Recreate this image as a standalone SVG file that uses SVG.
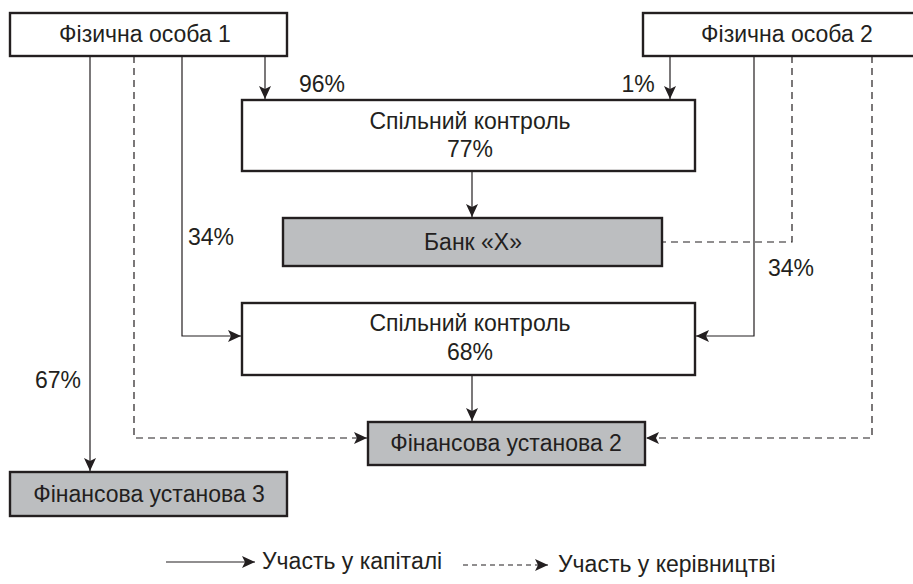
<svg xmlns="http://www.w3.org/2000/svg" width="913" height="584" viewBox="0 0 913 584">
<style>
.box{fill:#fff;stroke:#231f20;stroke-width:2.4}
.grey{fill:#bcbec0}
.t{font-family:"Liberation Sans",Arial,sans-serif;font-size:23px;fill:#231f20;text-anchor:middle}
.l{font-family:"Liberation Sans",Arial,sans-serif;font-size:23px;fill:#231f20}
.c{fill:none;stroke:#231f20;stroke-width:1.2}
.d{stroke-dasharray:7,5}
</style>
<defs>
<marker id="a" markerUnits="userSpaceOnUse" markerWidth="14" markerHeight="14" viewBox="0 0 14 14" refX="13" refY="7" orient="auto">
<path d="M0,1 L13,7 L0,13 L3,7 Z" fill="#231f20"/>
</marker>
</defs>
<rect width="913" height="584" fill="#fff"/>
<g id="connectors">
<path class="c" d="M265,56 V99" marker-end="url(#a)"/>
<path class="c" d="M670,56 V99" marker-end="url(#a)"/>
<path class="c" d="M472,171 V217" marker-end="url(#a)"/>
<path class="c" d="M182,56 V336 H241" marker-end="url(#a)"/>
<path class="c" d="M754,56 V336 H696" marker-end="url(#a)"/>
<path class="c" d="M472,375 V421" marker-end="url(#a)"/>
<path class="c" d="M90,56 V471" marker-end="url(#a)"/>
<path class="c d" d="M134,56 V438 H367" marker-end="url(#a)"/>
<path class="c d" d="M872,56 V438 H646" marker-end="url(#a)"/>
<path class="c d" d="M792,56 V242 H663"/>
</g>
<g id="n1"><rect class="box" x="10" y="13" width="277" height="43"/><text class="t" x="145" y="42">Фізична особа 1</text></g>
<g id="n2"><rect class="box" x="643" y="13" width="280" height="43"/><text class="t" x="787" y="42">Фізична особа 2</text></g>
<g id="n3"><rect class="box" x="242" y="100" width="453" height="71"/><text class="t" x="470" y="129">Спільний контроль</text><text class="t" x="470" y="157">77%</text></g>
<g id="n4"><rect class="box grey" x="283" y="218" width="379" height="48"/><text class="t" x="473" y="250">Банк «X»</text></g>
<g id="n5"><rect class="box" x="242" y="303" width="453" height="72"/><text class="t" x="470" y="331">Спільний контроль</text><text class="t" x="470" y="360">68%</text></g>
<g id="n6"><rect class="box grey" x="368" y="422" width="277" height="43"/><text class="t" x="506" y="451">Фінансова установа 2</text></g>
<g id="n7"><rect class="box grey" x="10" y="472" width="277" height="44"/><text class="t" x="149" y="502">Фінансова установа 3</text></g>
<g id="labels">
<text class="t" x="322" y="92">96%</text>
<text class="t" x="638" y="92">1%</text>
<text class="t" x="211" y="245">34%</text>
<text class="t" x="791" y="276">34%</text>
<text class="t" x="58" y="388">67%</text>
</g>
<g id="legend">
<path class="c" d="M166,562 H255" marker-end="url(#a)"/>
<text class="l" x="262" y="569">Участь у капіталі</text>
<path class="c" d="M463,565 H548" stroke-dasharray="5,4" marker-end="url(#a)"/>
<text class="l" x="558" y="572">Участь у керівництві</text>
</g>
</svg>
